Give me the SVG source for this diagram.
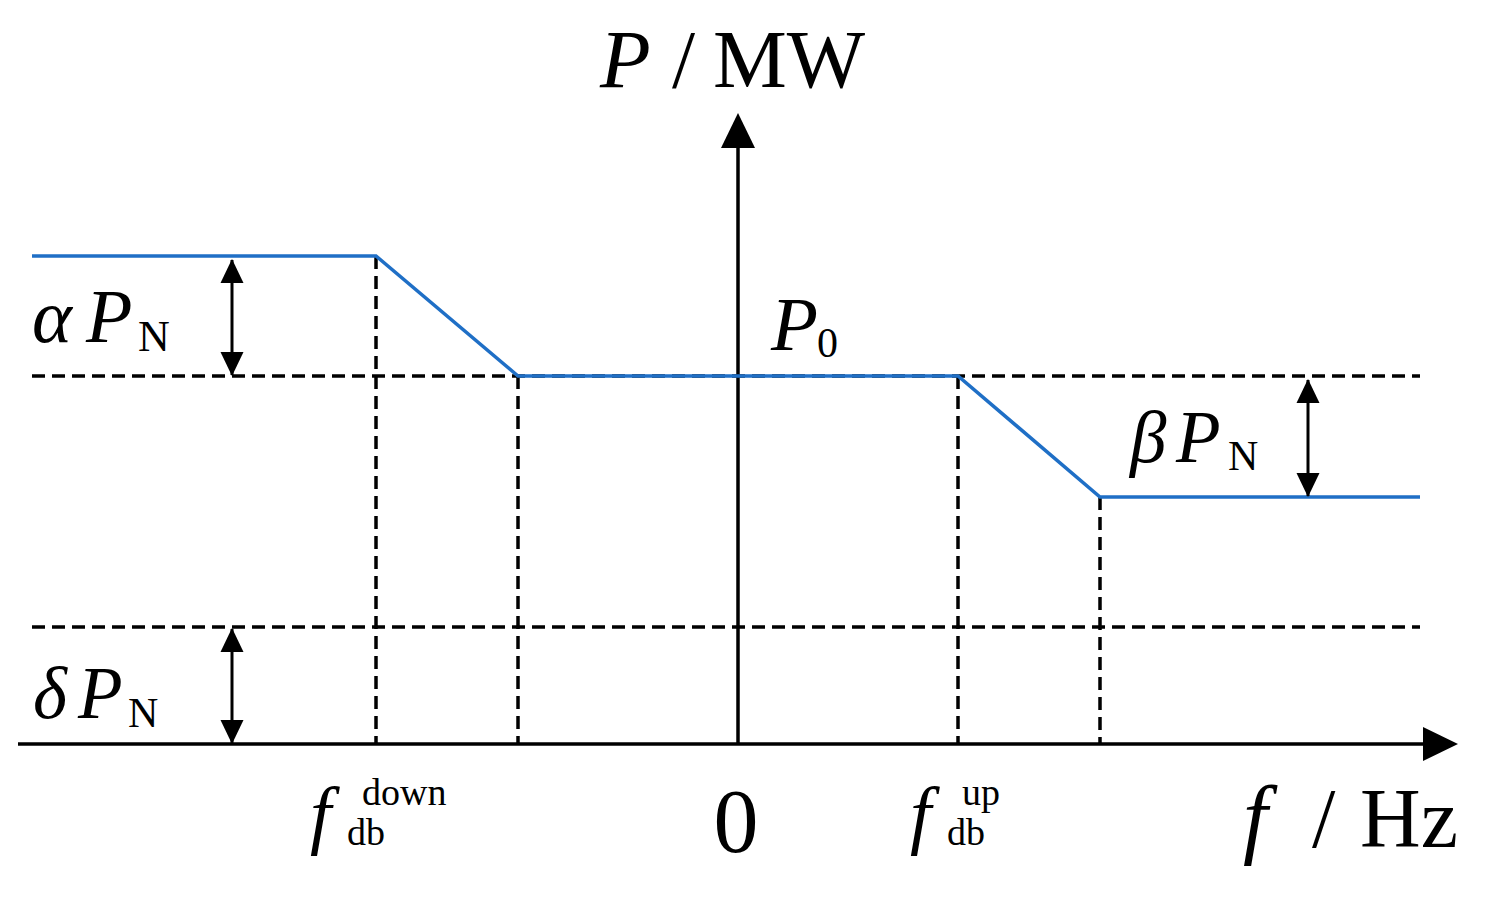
<svg xmlns="http://www.w3.org/2000/svg" width="1485" height="903" viewBox="0 0 1485 903">
<style>
.dash{stroke:#000;stroke-width:3.5;stroke-dasharray:13 7;fill:none}
.axis{stroke:#000;stroke-width:3.5;fill:none}
.blue{stroke:#1f6fc6;stroke-width:3.5;fill:none;stroke-linejoin:miter}
.dim{stroke:#000;stroke-width:3;fill:none;marker-start:url(#head);marker-end:url(#head)}
.head{fill:#000}
text{font-family:"Liberation Serif","Times New Roman",serif;fill:#000}
.it{font-style:italic}
</style>
<defs>
<marker id="head" markerUnits="userSpaceOnUse" markerWidth="24" markerHeight="24" refX="23" refY="12" orient="auto-start-reverse" viewBox="0 0 24 24">
<path d="M0,0.5 L24,12 L0,23.5 z" fill="#000"/>
</marker>
</defs>
<rect width="1485" height="903" fill="#fff"/>
<g id="connectors">
<g id="guides">
<line class="dash" x1="32" y1="376" x2="1420" y2="376"/>
<line class="dash" x1="32" y1="627" x2="1420" y2="627"/>
<line class="dash" x1="376" y1="256" x2="376" y2="744"/>
<line class="dash" x1="518" y1="376" x2="518" y2="744"/>
<line class="dash" x1="958" y1="376" x2="958" y2="744"/>
<line class="dash" x1="1100" y1="497" x2="1100" y2="744"/>
</g>
<g id="axes">
<line class="axis" x1="18" y1="744" x2="1426" y2="744"/>
<polygon class="head" points="1423,727 1458,744 1423,761"/>
<line class="axis" x1="738" y1="744" x2="738" y2="145"/>
<polygon class="head" points="721,148 738,113 755,148"/>
</g>
<polyline id="curve" class="blue" points="32,256 376,256 518,376 958,376 1100,497 1420,497"/>
<g id="dims">
<line class="dim" x1="232" y1="260" x2="232" y2="375"/>
<line class="dim" x1="1308" y1="380" x2="1308" y2="496"/>
<line class="dim" x1="232" y1="629" x2="232" y2="743"/>
</g>
</g>
<g id="label-ylabel">
<text x="600" y="87" font-size="83" class="it">P</text>
<text x="672" y="87" font-size="83">/</text>
<text x="713" y="87" font-size="83">MW</text>
</g>
<g id="label-alpha">
<text x="32" y="342" font-size="76" class="it">α</text>
<text x="86" y="342" font-size="76" class="it">P</text>
<text x="138" y="351" font-size="44">N</text>
</g>
<g id="label-delta">
<text x="33" y="718" font-size="73" class="it">δ</text>
<text x="78" y="718" font-size="73" class="it">P</text>
<text x="128" y="727" font-size="42">N</text>
</g>
<g id="label-beta">
<text x="1130" y="462" font-size="73" class="it">β</text>
<text x="1176" y="462" font-size="73" class="it">P</text>
<text x="1228" y="470" font-size="42">N</text>
</g>
<g id="label-P0">
<text x="771" y="350" font-size="77" class="it">P</text>
<text x="817" y="357" font-size="42">0</text>
</g>
<g id="label-zero">
<text x="736" y="852" font-size="90" text-anchor="middle">0</text>
</g>
<g id="label-fdown">
<text x="310" y="840" font-size="76" class="it">f</text>
<text x="347" y="845" font-size="38">db</text>
<text x="362" y="805" font-size="38">down</text>
</g>
<g id="label-fup">
<text x="910" y="840" font-size="76" class="it">f</text>
<text x="947" y="845" font-size="38">db</text>
<text x="962" y="805" font-size="38">up</text>
</g>
<g id="label-xlabel">
<text x="1243" y="847" font-size="88" class="it">f</text>
<text x="1312" y="847" font-size="84">/</text>
<text x="1360" y="847" font-size="84">Hz</text>
</g>
</svg>
